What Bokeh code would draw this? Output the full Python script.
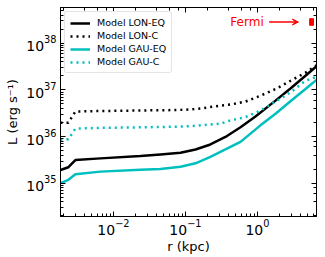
from bokeh.plotting import figure
from bokeh.models import Range1d, LogAxis, Legend, LegendItem, Arrow, VeeHead, Label
from bokeh.embed import file_html
from bokeh.resources import INLINE

# ---- data ----
r_lon_eq = [0.00184, 0.00237, 0.00296, 0.0066, 0.0237, 0.045, 0.0853, 0.138, 0.222, 0.359, 0.581, 0.938, 1.78, 2.87, 4.64, 6.6]
L_lon_eq = [1.93e35, 2.21e35, 3.15e35, 3.42e35, 3.83e35, 4.16e35, 4.50e35, 5.31e35, 6.78e35, 9.82e35, 1.58e36, 2.70e36, 5.89e36, 1.07e37, 2.0e37, 3.2e37]

r_lon_c = [0.00184, 0.00237, 0.00296, 0.0066, 0.0237, 0.0726, 0.117, 0.161, 0.306, 0.422, 0.681, 1.10, 1.78, 2.87, 4.64, 6.6]
L_lon_c = [1.99e36, 1.99e36, 3.44e36, 3.53e36, 3.62e36, 3.70e36, 3.80e36, 3.99e36, 4.62e36, 4.85e36, 5.61e36, 7.52e36, 1.04e37, 1.56e37, 2.34e37, 3.35e37]

r_gau_eq = [0.00184, 0.00237, 0.00296, 0.0066, 0.0237, 0.045, 0.0853, 0.138, 0.222, 0.359, 0.581, 1.10, 1.78, 2.87, 4.64, 6.6]
L_gau_eq = [1.01e35, 1.19e35, 1.57e35, 1.78e35, 1.95e35, 2.03e35, 2.27e35, 2.68e35, 3.70e35, 5.31e35, 7.70e35, 1.74e36, 3.08e36, 5.70e36, 1.04e37, 1.64e37]

r_gau_c = [0.00184, 0.00237, 0.00296, 0.0066, 0.0237, 0.0726, 0.117, 0.306, 0.422, 0.681, 1.10, 1.78, 2.87, 4.64, 6.6]
L_gau_c = [8.65e35, 8.78e35, 1.48e36, 1.54e36, 1.58e36, 1.63e36, 1.68e36, 1.89e36, 2.22e36, 2.61e36, 3.62e36, 5.61e36, 8.84e36, 1.56e37, 1.90e37]

fermi_r_lo = [5.3]
fermi_r_hi = [6.0]
fermi_L_lo = [2.41e38]
fermi_L_hi = [3.34e38]
fermi_text_r = 0.42
fermi_text_L = 2.83e38
fermi_arrow_r = [1.45, 3.7]

BLACK = "#000000"
CYAN = "#00bfbf"
RED = "#ff0000"
FONT = "DejaVu Sans"

p = figure(width=320, height=256, x_axis_type="log", y_axis_type="log",
           x_range=Range1d(0.00184, 6.6), y_range=Range1d(10**34.29, 10**38.763),
           output_backend="svg", toolbar_location=None,
           min_border_left=60, min_border_right=4, min_border_top=7, min_border_bottom=20)
p.xgrid.visible = False
p.ygrid.visible = False
p.outline_line_color = "black"
p.outline_line_width = 1
p.background_fill_color = "white"
p.border_fill_color = "white"

l1 = p.line(r_lon_eq, L_lon_eq, line_color=BLACK, line_width=2.5)
l2 = p.line(r_lon_c, L_lon_c, line_color=BLACK, line_width=2.5, line_dash="2 4")
l3 = p.line(r_gau_eq, L_gau_eq, line_color=CYAN, line_width=2.5)
l4 = p.line(r_gau_c, L_gau_c, line_color=CYAN, line_width=2.5, line_dash="2 4")

p.quad(left=fermi_r_lo, right=fermi_r_hi, bottom=fermi_L_lo, top=fermi_L_hi,
       fill_color=RED, line_color=RED)
p.add_layout(Arrow(end=VeeHead(size=6, line_color=RED, fill_color=RED, line_width=1),
                   x_start=fermi_arrow_r[0], y_start=fermi_text_L,
                   x_end=fermi_arrow_r[1], y_end=fermi_text_L,
                   line_color=RED, line_width=1.5))
p.add_layout(Label(x=fermi_text_r, y=fermi_text_L, text="Fermi", text_color=RED,
                   text_font=FONT, text_font_size="12px", text_baseline="middle",
                   text_align="left"))

for ax in (p.xaxis[0], p.yaxis[0]):
    ax.major_tick_in = 5
    ax.major_tick_out = 0
    ax.minor_tick_in = 3
    ax.minor_tick_out = 0
    ax.axis_line_color = "black"
    ax.major_tick_line_color = "black"
    ax.minor_tick_line_color = "black"
    ax.major_label_text_font = FONT
    ax.major_label_text_font_size = "14px"
    ax.major_label_text_color = "black"
    ax.axis_label_text_font = FONT
    ax.axis_label_text_font_size = "13px"
    ax.axis_label_text_font_style = "normal"
    ax.axis_label_text_color = "black"
    ax.major_label_standoff = 2
    ax.axis_label_standoff = 1

p.yaxis.major_label_standoff = 4
p.yaxis.axis_label_standoff = 3
p.xaxis.axis_label = "r (kpc)"
p.yaxis.axis_label = "L (erg s\u207b\u00b9)"

for loc in ("above", "right"):
    ax = LogAxis()
    ax.major_tick_in = 5
    ax.major_tick_out = 0
    ax.minor_tick_in = 3
    ax.minor_tick_out = 0
    ax.major_label_text_font_size = "1px"
    ax.major_label_text_alpha = 0
    ax.major_label_standoff = 0
    ax.axis_line_color = "black"
    ax.major_tick_line_color = "black"
    ax.minor_tick_line_color = "black"
    p.add_layout(ax, loc)

legend = Legend(items=[
    LegendItem(label="Model LON-EQ", renderers=[l1]),
    LegendItem(label="Model LON-C", renderers=[l2]),
    LegendItem(label="Model GAU-EQ", renderers=[l3]),
    LegendItem(label="Model GAU-C", renderers=[l4]),
], location="top_left")
legend.label_text_font = FONT
legend.label_text_font_size = "9.5px"
legend.label_text_color = "black"
legend.label_height = 10
legend.glyph_height = 10
legend.glyph_width = 20
legend.spacing = 2
legend.padding = 5
legend.margin = 4
legend.label_standoff = 7
legend.border_line_color = "#cccccc"
legend.border_line_width = 1
legend.border_radius = 3
legend.background_fill_alpha = 1
p.add_layout(legend)

open("out.html", "w").write(file_html(p, INLINE))
